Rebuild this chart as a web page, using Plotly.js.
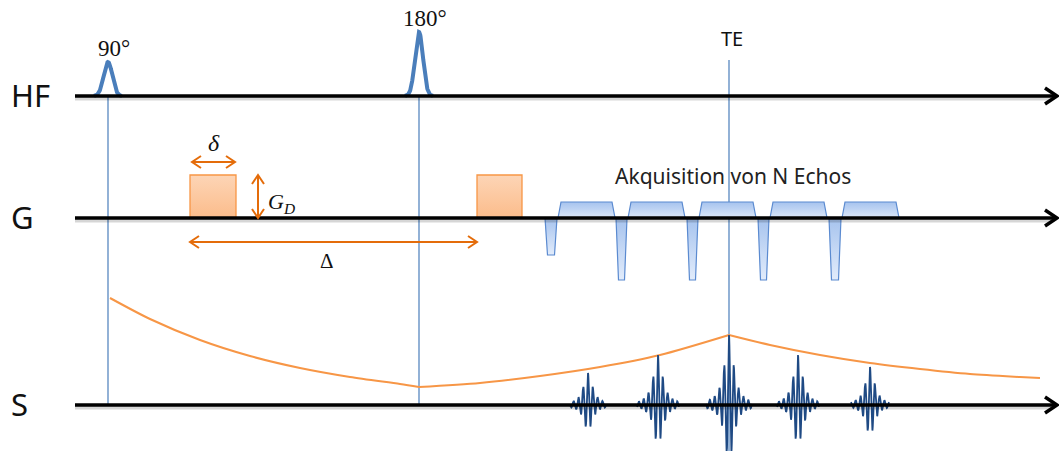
<!DOCTYPE html>
<html>
<head>
<meta charset="utf-8">
<script src="https://cdn.plot.ly/plotly-3.0.1.min.js"></script>
<style>
  html, body { margin: 0; padding: 0; background: #ffffff; }
  #chart { width: 1059px; height: 451px; }
</style>
</head>
<body>
<div id="chart"></div>
<script>
// ---- Sequence timeline (horizontal) and channel levels (vertical, downward) ----
const channelNames = ['HF', 'G', 'S'];
const channelLevels = [96, 218, 405];
const axisStart = 75;
const axisEnd = 1057;

// RF pulses
const pulseLabels = ['90°', '180°'];
const pulseTimes = [108, 419];
const pulseHeights = [34, 64];
const pulseSigmas = [4.3, 4.0];

// Echo time marker
const echoTimeLabel = 'TE';
const echoTime = 729;

// Diffusion gradient pair
const diffStarts = [190, 477];
const diffEnds = [236, 522];
const diffAmp = 43;

// Readout gradient train (positive lobes and negative blips)
const lobeStarts = [558, 628, 699, 770, 842];
const lobeEnds = [615, 685, 756, 827, 899];
const lobeAmp = 16;
const dipStarts = [545, 616, 687, 758, 829];
const dipEnds = [557, 627, 698, 769, 841];
const dipAmps = [37, 62, 62, 62, 62];
const readoutLabel = 'Akquisition von N Echos';

// Signal envelope in three pieces: decay after 90°, refocusing towards TE, decay after TE
const envDecayTimes  = [110, 150, 200, 250, 300, 350, 400, 419];
const envDecayAmps   = [107, 86, 65, 49, 37, 28, 21, 18];
const envRiseTimes   = [419, 480, 540, 600, 660, 729];
const envRiseAmps    = [18, 22, 29, 38, 50, 70];
const envDecay2Times = [729, 770, 820, 870, 920, 970, 1020, 1040];
const envDecay2Amps  = [70, 60, 50, 42, 36, 31, 28, 27];

// Echo train
const echoCenters = [588, 658, 729, 798, 870];
const echoAmps = [32, 50, 70, 50, 38];
const echoHalfWidths = [18, 21, 23, 21, 19];

// ---- styles ----
const BLUE = '#4a7ebb';
const ORANGE_LINE = '#f79646';
const ORANGE_ARROW = '#e46c0a';
const ECHO_BLUE = '#1f4a84';

const [yHF, yG, yS] = channelLevels;
const traces = [];

// thin time markers through the channels
function vline(x, y0, y1) {
  traces.push({x: [x, x], y: [y0, y1], mode: 'lines', line: {color: BLUE, width: 1.2}, hoverinfo: 'skip'});
}
vline(pulseTimes[0], yHF, yS);
vline(pulseTimes[1], yHF, yS);
vline(echoTime, 60, 451);

// RF pulses: gaussian lobes on the HF line
pulseTimes.forEach((t0, i) => {
  const xs = [], ys = [];
  for (let dx = -14; dx <= 14; dx += 0.25) {
    xs.push(t0 + dx);
    ys.push(yHF - pulseHeights[i] * Math.exp(-0.5 * (dx / pulseSigmas[i]) ** 2));
  }
  traces.push({x: xs, y: ys, mode: 'lines', line: {color: BLUE, width: 4}, hoverinfo: 'skip'});
});

// diffusion gradient blocks
diffStarts.forEach((s, i) => {
  const e = diffEnds[i];
  traces.push({
    x: [s, s, e, e, s], y: [yG, yG - diffAmp, yG - diffAmp, yG, yG],
    mode: 'lines', fill: 'toself',
    fillgradient: {type: 'vertical', start: yG - diffAmp, stop: yG,
                   colorscale: [[0, '#fdd5b6'], [1, '#fbbc8b']]},
    line: {color: ORANGE_LINE, width: 1.3}, hoverinfo: 'skip'
  });
});

// readout gradient trapezoids
function trapezoid(s, e, amp, ramp, cTop, cBase) {
  const yPeak = yG - amp;
  traces.push({
    x: [s, s + ramp, e - ramp, e, s], y: [yG, yPeak, yPeak, yG, yG],
    mode: 'lines', fill: 'toself',
    fillgradient: {type: 'vertical', start: Math.min(yPeak, yG), stop: Math.max(yPeak, yG),
                   colorscale: [[0, cTop], [1, cBase]]},
    line: {color: '#5a8ad0', width: 1.2}, hoverinfo: 'skip'
  });
}
lobeStarts.forEach((s, i) => trapezoid(s, lobeEnds[i], lobeAmp, 3, '#a6c3ee', '#dbe7f9'));
dipStarts.forEach((s, i) => trapezoid(s, dipEnds[i], -dipAmps[i], 2.5, '#a6c3ee', '#e2ecfb'));

// signal envelope
[[envDecayTimes, envDecayAmps], [envRiseTimes, envRiseAmps], [envDecay2Times, envDecay2Amps]]
  .forEach(([ts, as]) => traces.push({
    x: ts, y: as.map(a => yS - a), mode: 'lines',
    line: {color: ORANGE_LINE, width: 2, shape: 'spline', smoothing: 0.8}, hoverinfo: 'skip'
  }));

// echoes: oscillating bursts centred on each readout
echoCenters.forEach((c, i) => {
  const xs = [], ys = [];
  const hw = echoHalfWidths[i];
  for (let dx = -hw; dx <= hw; dx += 0.2) {
    const g = 1 / (1 + (dx / 5.5) ** 2);
    let v = Math.cos(2 * Math.PI * dx / 4.8) * g;
    if (v < 0) v *= 0.8;
    xs.push(c + dx);
    ys.push(yS - echoAmps[i] * v);
  }
  traces.push({x: xs, y: ys, mode: 'lines', line: {color: ECHO_BLUE, width: 1.8}, hoverinfo: 'skip'});
});

// channel axes with soft shadow and open arrowheads
channelLevels.forEach(y => {
  traces.push({x: [axisStart, axisEnd - 4], y: [y + 2.5, y + 2.5], mode: 'lines',
               line: {color: 'rgba(0,0,0,0.16)', width: 4}, hoverinfo: 'skip'});
});
channelLevels.forEach(y => {
  traces.push({x: [axisStart, axisEnd - 1], y: [y, y], mode: 'lines',
               line: {color: '#000000', width: 3.5}, hoverinfo: 'skip'});
  traces.push({x: [axisEnd - 12, axisEnd, axisEnd - 12], y: [y - 8, y, y + 8], mode: 'lines',
               line: {color: '#000000', width: 3.5}, hoverinfo: 'skip'});
});

// orange dimension arrows (double headed, open heads)
function dimArrow(x0, y0, x1, y1) {
  const len = Math.hypot(x1 - x0, y1 - y0);
  const ux = (x1 - x0) / len, uy = (y1 - y0) / len;
  const h = 9, w = 6;
  traces.push({x: [x0, x1], y: [y0, y1], mode: 'lines', line: {color: ORANGE_ARROW, width: 2}, hoverinfo: 'skip'});
  [[x0, y0, 1], [x1, y1, -1]].forEach(([px, py, d]) => {
    traces.push({
      x: [px + d * ux * h - uy * w, px, px + d * ux * h + uy * w],
      y: [py + d * uy * h + ux * w, py, py + d * uy * h - ux * w],
      mode: 'lines', line: {color: ORANGE_ARROW, width: 2}, hoverinfo: 'skip'
    });
  });
}
dimArrow(diffStarts[0] + 2, 162, diffEnds[0] - 1, 162);
dimArrow(258, yG - diffAmp, 258, yG);
dimArrow(diffStarts[0], 242, diffStarts[1], 242);

// labels
const sans = 'Noto Sans, Open Sans, sans-serif';
const serif = 'Liberation Serif, DejaVu Serif, serif';
const annotations = [];
channelNames.forEach((n, i) => annotations.push({
  x: 9, y: channelLevels[i] - 1, xanchor: 'left', yanchor: 'middle', text: n, showarrow: false,
  font: {family: sans, size: 31, color: '#111111'}
}));
pulseLabels.forEach((t, i) => annotations.push({
  x: pulseTimes[i] + 6, y: yHF - pulseHeights[i] - 14, xanchor: 'center', yanchor: 'middle', text: t,
  showarrow: false, font: {family: serif, size: 23, color: '#111111'}
}));
annotations.push({x: echoTime + 3, y: 38, text: echoTimeLabel, showarrow: false,
  xanchor: 'center', yanchor: 'middle', font: {family: sans, size: 20, color: '#111111'}});
annotations.push({x: 733, y: 176, text: readoutLabel, showarrow: false,
  xanchor: 'center', yanchor: 'middle', font: {family: sans, size: 21, color: '#222222'}});
annotations.push({x: 214, y: 143, text: '<i>δ</i>', showarrow: false,
  xanchor: 'center', yanchor: 'middle', font: {family: serif, size: 24, color: '#111111'}});
annotations.push({x: 266, y: 203, text: '<i>G</i><sub><i>D</i></sub>', showarrow: false,
  xanchor: 'left', yanchor: 'middle', font: {family: serif, size: 22, color: '#111111'}});
annotations.push({x: 327, y: 261, text: 'Δ', showarrow: false,
  xanchor: 'center', yanchor: 'middle', font: {family: serif, size: 21, color: '#111111'}});

const layout = {
  width: 1059, height: 451,
  margin: {l: 0, r: 0, t: 0, b: 0},
  paper_bgcolor: '#ffffff', plot_bgcolor: '#ffffff',
  showlegend: false,
  xaxis: {range: [0, 1059], visible: false, fixedrange: true},
  yaxis: {range: [451, 0], visible: false, fixedrange: true},
  annotations: annotations
};

Plotly.newPlot('chart', traces, layout, {staticPlot: true, displayModeBar: false});
</script>
</body>
</html>
